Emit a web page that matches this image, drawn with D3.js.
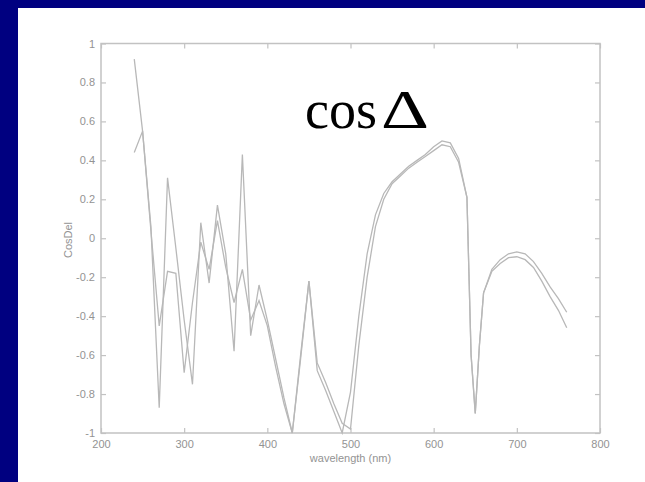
<!DOCTYPE html>
<html><head><meta charset="utf-8">
<script src="https://cdn.jsdelivr.net/npm/d3@7"></script>
<style>html,body{margin:0;padding:0;background:#000080;overflow:hidden} svg{display:block}</style>
</head><body><svg id="c" width="645" height="482"></svg>
<script>
const wavelengths = [240,250,260,270,280,290,300,310,320,330,340,350,360,370,380,390,400,410,420,430,440,450,460,470,480,490,500,510,520,530,540,550,560,570,580,590,600,610,620,630,640,645,650,655,660,670,680,690,700,710,720,730,740,750,760];
const cosDeltaA = [0.92,0.55,0.06,-0.87,0.31,-0.05,-0.42,-0.75,0.08,-0.23,0.17,-0.08,-0.58,0.43,-0.50,-0.24,-0.42,-0.62,-0.82,-1.00,-0.60,-0.22,-0.68,-0.78,-0.89,-1.00,-0.79,-0.40,-0.08,0.12,0.23,0.29,0.33,0.37,0.40,0.43,0.47,0.50,0.49,0.41,0.21,-0.60,-0.90,-0.55,-0.28,-0.16,-0.11,-0.08,-0.07,-0.08,-0.12,-0.18,-0.25,-0.31,-0.38];
const cosDeltaB = [0.44,0.55,0.04,-0.45,-0.17,-0.18,-0.69,-0.33,-0.02,-0.16,0.09,-0.15,-0.33,-0.16,-0.42,-0.32,-0.45,-0.66,-0.85,-1.00,-0.62,-0.22,-0.64,-0.74,-0.85,-0.95,-0.98,-0.55,-0.20,0.06,0.20,0.28,0.32,0.36,0.39,0.42,0.45,0.48,0.47,0.39,0.21,-0.60,-0.90,-0.55,-0.28,-0.17,-0.13,-0.10,-0.095,-0.11,-0.15,-0.22,-0.30,-0.37,-0.46];
const xTicks = [200,300,400,500,600,700,800];
const yTicks = [-1,-0.8,-0.6,-0.4,-0.2,0,0.2,0.4,0.6,0.8,1];
const xLabel = "wavelength (nm)";
const yLabel = "CosDel";
const titleMain = "cos";
const titleSymbol = "Δ";

const svg = d3.select("#c");
svg.append("rect").attr("x",18).attr("y",8).attr("width",627).attr("height",474).attr("fill","#ffffff");

const L = 101, R = 600, T = 43.5, B = 433;
const x = d3.scaleLinear().domain([200,800]).range([L,R]);
const y = d3.scaleLinear().domain([-1,1]).range([B,T]);

const axisColor = "#c2c2c2", labelColor = "#939393";
const font = "Liberation Sans, Arial, sans-serif";

function styleAxis(g){
  g.select(".domain").remove();
  g.selectAll(".tick line").attr("stroke",axisColor).attr("stroke-width",1.2);
  g.selectAll(".tick text").attr("fill",labelColor).attr("font-family",font).attr("font-size",11);
}
const fmt = d => String(d);
svg.append("g").attr("transform",`translate(0,${B})`)
  .call(d3.axisBottom(x).tickValues(xTicks).tickFormat(fmt).tickSizeInner(-5).tickSizeOuter(0).tickPadding(7)).call(styleAxis);
svg.append("g").attr("transform",`translate(0,${T})`)
  .call(d3.axisTop(x).tickValues(xTicks).tickFormat("").tickSizeInner(-5).tickSizeOuter(0)).call(styleAxis);
svg.append("g").attr("transform",`translate(${L},0)`)
  .call(d3.axisLeft(y).tickValues(yTicks).tickFormat(fmt).tickSizeInner(-5).tickSizeOuter(0).tickPadding(6)).call(styleAxis);
svg.append("g").attr("transform",`translate(${R},0)`)
  .call(d3.axisRight(y).tickValues(yTicks).tickFormat("").tickSizeInner(-5).tickSizeOuter(0)).call(styleAxis);

svg.append("rect").attr("x",L).attr("y",T).attr("width",R-L).attr("height",B-T)
  .attr("fill","none").attr("stroke",axisColor).attr("stroke-width",1.5);

const line = d3.line().x(d=>x(d[0])).y(d=>y(d[1]));
[cosDeltaA, cosDeltaB].forEach(vals=>{
  svg.append("path").datum(wavelengths.map((w,i)=>[w,vals[i]]))
    .attr("d",line).attr("fill","none").attr("stroke","#b8b8b8").attr("stroke-width",1.3);
});

svg.append("text").attr("x",(L+R)/2).attr("y",462).attr("text-anchor","middle")
  .attr("font-family",font).attr("font-size",11).attr("fill",labelColor).text(xLabel);
svg.append("text").attr("transform","translate(72,240) rotate(-90)").attr("text-anchor","middle")
  .attr("font-family",font).attr("font-size",11).attr("fill",labelColor).text(yLabel);

const t = svg.append("text").attr("x",305).attr("y",128).attr("font-family","Liberation Serif, Times New Roman, serif")
  .attr("font-size",54).attr("fill","#000");
t.append("tspan").text(titleMain);
t.append("tspan").attr("dx",4).attr("textLength",48).attr("lengthAdjust","spacingAndGlyphs").text(titleSymbol);
</script></body></html>
